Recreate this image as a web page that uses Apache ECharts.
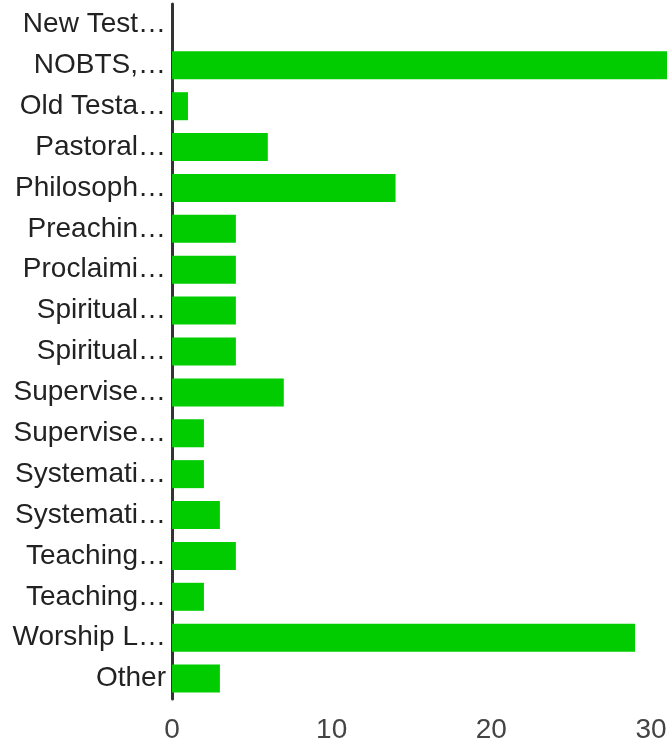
<!doctype html>
<html>
<head>
<meta charset="utf-8">
<script src="https://cdn.jsdelivr.net/npm/echarts@6/dist/echarts.min.js"></script>
<style>
html, body { margin: 0; padding: 0; background: #fff; }
#main { width: 667px; height: 750px; }
</style>
</head>
<body>
<div id="main"></div>
<script type="text/javascript">
var courses = ['New Test\u2026', 'NOBTS,\u2026', 'Old Testa\u2026', 'Pastoral\u2026', 'Philosoph\u2026',
  'Preachin\u2026', 'Proclaimi\u2026', 'Spiritual\u2026', 'Spiritual\u2026', 'Supervise\u2026',
  'Supervise\u2026', 'Systemati\u2026', 'Systemati\u2026', 'Teaching\u2026', 'Teaching\u2026',
  'Worship L\u2026', 'Other'];
var counts = [0, 31, 1, 6, 14, 4, 4, 4, 4, 7, 2, 2, 3, 4, 2, 29, 3];
var xTicks = [0, 10, 20, 30];

var myChart = echarts.init(document.getElementById('main'));
var option = {
  animation: false,
  textStyle: { fontFamily: 'Liberation Sans' },
  grid: { left: 172, right: 0, top: 4, bottom: 51, containLabel: false, outerBoundsMode: 'none' },
  xAxis: {
    type: 'value',
    min: xTicks[0],
    max: 31,
    interval: 10,
    splitLine: { show: false },
    axisLine: { show: false },
    axisTick: { show: false },
    axisLabel: {
      color: '#444',
      fontSize: 28,
      margin: 17,
      formatter: function (v) { return xTicks.indexOf(v) >= 0 ? String(v) : ''; }
    }
  },
  yAxis: {
    type: 'category',
    inverse: true,
    data: courses.map(function (c, i) { return { value: c + '#' + i }; }),
    axisLine: { show: true, lineStyle: { color: '#333', width: 3 } },
    axisTick: { show: false },
    axisLabel: {
      color: '#222',
      fontSize: 28,
      margin: 6,
      interval: 0,
      formatter: function (v) { return v.split('#')[0]; }
    }
  },
  series: [{
    type: 'bar',
    data: counts,
    barCategoryGap: '31.5%',
    itemStyle: { color: '#00cc00' }
  }]
};
myChart.setOption(option);
</script>
</body>
</html>
